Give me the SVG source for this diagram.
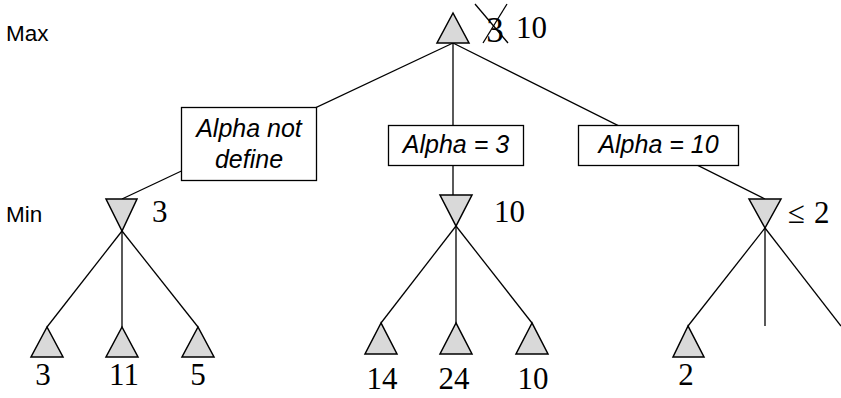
<svg xmlns="http://www.w3.org/2000/svg" width="841" height="398" viewBox="0 0 841 398">
<style>
.tri{fill:#d9d9d9;stroke:#000;stroke-width:1.5;stroke-linejoin:miter}
.edge{stroke:#000;stroke-width:1.3;fill:none}
.box{fill:#fff;stroke:#000;stroke-width:1.3}
.lbl{font-family:"Liberation Sans",Arial,sans-serif;font-size:22.5px;fill:#000}
.alpha{font-family:"Liberation Sans",Arial,sans-serif;font-size:25px;font-style:italic;fill:#000;text-anchor:middle}
.num{font-family:"Liberation Serif","Times New Roman",serif;font-size:31px;fill:#000}
.numc{font-family:"Liberation Serif","Times New Roman",serif;font-size:31px;fill:#000;text-anchor:middle}
</style>
<rect width="841" height="398" fill="#fff"/>
<text class="lbl" x="6" y="41">Max</text>
<text class="lbl" x="6" y="222">Min</text>
<g id="connectors">
<line class="edge" x1="453" y1="43" x2="122" y2="199"/>
<line class="edge" x1="453" y1="43" x2="453" y2="196"/>
<line class="edge" x1="453" y1="43" x2="765" y2="199"/>
<line class="edge" x1="122" y1="231" x2="47" y2="327"/>
<line class="edge" x1="122" y1="231" x2="122" y2="327"/>
<line class="edge" x1="122" y1="231" x2="198" y2="327"/>
<line class="edge" x1="456" y1="226" x2="381" y2="323"/>
<line class="edge" x1="456" y1="226" x2="456" y2="323"/>
<line class="edge" x1="456" y1="226" x2="532" y2="323"/>
<line class="edge" x1="765" y1="228" x2="688" y2="326"/>
<line class="edge" x1="765" y1="228" x2="765" y2="326"/>
<line class="edge" x1="765" y1="228" x2="841" y2="326"/>
</g>
<g id="box-left">
<rect class="box" x="181.5" y="107.5" width="135" height="73"/>
<text class="alpha" x="249" y="137">Alpha not</text>
<text class="alpha" x="249" y="168">define</text>
</g>
<g id="box-mid">
<rect class="box" x="388.5" y="125.5" width="135" height="40"/>
<text class="alpha" x="456" y="153">Alpha = 3</text>
</g>
<g id="box-right">
<rect class="box" x="578.5" y="125.5" width="160" height="40"/>
<text class="alpha" x="658.5" y="153">Alpha = 10</text>
</g>
<g id="root">
<polygon class="tri" points="453,13 437,43 469,43"/>
<text class="numc" x="495" y="42" style="font-size:35px">3</text>
<line class="edge" x1="475" y1="4" x2="508" y2="43"/>
<line class="edge" x1="507" y1="4" x2="483" y2="43"/>
<text class="num" x="516" y="38">10</text>
</g>
<g id="min-left">
<polygon class="tri" points="106,199 137,199 122,231"/>
<text class="num" x="152" y="222">3</text>
</g>
<g id="min-mid">
<polygon class="tri" points="440,195 472,195 456,226"/>
<text class="num" x="494" y="222">10</text>
</g>
<g id="min-right">
<polygon class="tri" points="749,199 781,199 765,228"/>
<text class="num" x="788" y="223">≤ <tspan x="814">2</tspan></text>
</g>
<g id="leaf-3">
<polygon class="tri" points="47,327 31,357 63,357"/>
<text class="numc" x="43" y="385">3</text>
</g>
<g id="leaf-11">
<polygon class="tri" points="122,327 106,357 138,357"/>
<text class="numc" x="124" y="385">11</text>
</g>
<g id="leaf-5">
<polygon class="tri" points="198,327 182,357 214,357"/>
<text class="numc" x="198" y="385">5</text>
</g>
<g id="leaf-14">
<polygon class="tri" points="381,323 365,354 397,354"/>
<text class="numc" x="382" y="389">14</text>
</g>
<g id="leaf-24">
<polygon class="tri" points="456,323 440,354 472,354"/>
<text class="numc" x="454" y="389">24</text>
</g>
<g id="leaf-10">
<polygon class="tri" points="532,323 516,354 548,354"/>
<text class="numc" x="533" y="389">10</text>
</g>
<g id="leaf-2">
<polygon class="tri" points="688,326 673,357 704,357"/>
<text class="numc" x="686" y="385">2</text>
</g>
</svg>
